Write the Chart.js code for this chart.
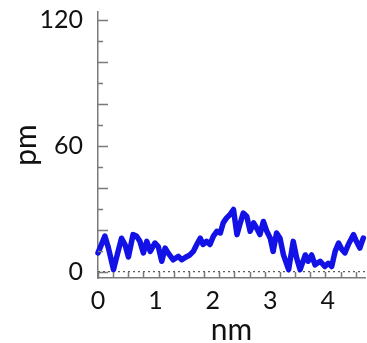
<!DOCTYPE html>
<html>
<head>
<meta charset="utf-8">
<script src="https://cdn.jsdelivr.net/npm/chart.js@4"></script>
<style>
  html, body { margin: 0; padding: 0; background: #fff; }
  #perfil { display: block; }
</style>
</head>
<body>
<canvas id="perfil" width="367" height="343"></canvas>
<script>
// perfil de altura: posicao (nm) e altura (pm)
var posicao_nm = [0.00, 0.12, 0.18, 0.27, 0.35, 0.41, 0.47, 0.53, 0.61, 0.67, 0.73, 0.79, 0.85, 0.91,
  0.99, 1.05, 1.11, 1.17, 1.22, 1.31, 1.40, 1.46, 1.55, 1.60, 1.66, 1.72, 1.78, 1.83, 1.89, 1.95,
  2.01, 2.07, 2.13, 2.18, 2.24, 2.30, 2.36, 2.42, 2.47, 2.53, 2.59, 2.65, 2.71, 2.76, 2.82, 2.88,
  2.94, 3.00, 3.05, 3.11, 3.17, 3.23, 3.32, 3.40, 3.46, 3.52, 3.61, 3.66, 3.72, 3.78, 3.87, 3.95,
  4.01, 4.07, 4.13, 4.19, 4.25, 4.30, 4.36, 4.45, 4.50, 4.56, 4.62];
var altura_pm = [9, 17, 11.5, 1, 9.7, 16, 13, 7, 17.7, 17, 14.5, 9, 14.5, 9.7,
  13.7, 12, 5, 11.3, 9, 5.7, 7.3, 5.7, 7.3, 8, 9.7, 13, 16, 13, 14.5, 13,
  17, 19.3, 18.5, 23.3, 25.7, 27.3, 29.7, 17.7, 22.5, 28, 26.5, 19.3, 23.3, 21, 17.7, 24,
  19.3, 16, 9.7, 18.5, 16, 8, 1, 14.5, 6.5, 1, 8, 5, 8, 3.3, 5, 2.5,
  4, 2.5, 9.7, 13.7, 10.5, 9, 13, 17.7, 14.5, 11.3, 16];

var rotulos_x = [0, 1, 2, 3, 4];
var rotulos_y = [0, 60, 120];
var passo_x = 0.264;   // tracinhos do eixo x
var passo_y = 10;      // tracinhos do eixo y
var x_max = 4.65;
var y_min = -3, y_max = 124;

var pontos = posicao_nm.map(function (p, i) { return { x: p, y: altura_pm[i] }; });
var linha_zero = [{ x: 0, y: 0 }, { x: x_max, y: 0 }];

// tracinhos para dentro, como no grafico original
var tracinhos = {
  id: "tracinhos",
  afterDraw: function (chart) {
    var ctx = chart.ctx, sx = chart.scales.x, sy = chart.scales.y;
    var area = chart.chartArea;
    ctx.save();
    ctx.strokeStyle = "#7a7a7a";
    ctx.lineWidth = 1.5;
    ctx.beginPath();
    for (var v = 0; v <= y_max; v += passo_y) {
      var py = Math.round(sy.getPixelForValue(v)) + 0.5;
      var len = (v % 20 === 0) ? 10 : 5;
      ctx.moveTo(area.left, py);
      ctx.lineTo(area.left + len, py);
    }
    for (var k = 0; k * passo_x <= x_max; k++) {
      var px = Math.round(sx.getPixelForValue(k * passo_x)) + 0.5;
      ctx.moveTo(px, area.bottom);
      ctx.lineTo(px, area.bottom - 6);
    }
    ctx.stroke();
    ctx.restore();
  }
};

var ctx = document.getElementById("perfil");

var myChart = new Chart(ctx, {
  type: "line",
  data: {
    datasets: [
      {
        label: "perfil",
        data: pontos,
        borderColor: "#1212e6",
        borderWidth: 5.5,
        borderJoinStyle: "round",
        borderCapStyle: "round",
        pointRadius: 0,
        tension: 0,
        clip: false,
        order: 1
      },
      {
        label: "zero",
        data: linha_zero,
        borderColor: "#333",
        borderWidth: 1,
        borderDash: [2, 3],
        pointRadius: 0,
        order: 2
      }
    ]
  },
  options: {
    responsive: false,
    animation: false,
    layout: { padding: { top: 12, right: 2, left: 0, bottom: 0 } },
    plugins: { legend: { display: false }, tooltip: { enabled: false } },
    scales: {
      x: {
        type: "linear",
        min: 0,
        max: x_max,
        grid: { display: false, drawTicks: false },
        border: { display: true, color: "#7a7a7a", width: 1.5 },
        afterBuildTicks: function (s) { s.ticks = rotulos_x.map(function (v) { return { value: v }; }); },
        ticks: {
          padding: 8,
          color: "#111",
          maxRotation: 0,
          autoSkip: false,
          font: { family: "Lato", size: 25 }
        },
        title: {
          display: true,
          text: "nm",
          color: "#111",
          font: { family: "Lato", size: 30, lineHeight: 0.8 },
          padding: { top: 0, bottom: 1 }
        },
        afterFit: function (s) { s.height = 65; s.paddingLeft = 0; s.paddingRight = 0; }
      },
      y: {
        type: "linear",
        min: y_min,
        max: y_max,
        grid: { display: false, drawTicks: false },
        border: { display: true, color: "#7a7a7a", width: 1.5 },
        afterBuildTicks: function (s) { s.ticks = rotulos_y.map(function (v) { return { value: v }; }); },
        ticks: {
          padding: 15,
          color: "#111",
          autoSkip: false,
          font: { family: "Lato", size: 25 }
        },
        title: {
          display: true,
          text: "pm",
          color: "#111",
          font: { family: "Lato", size: 30, lineHeight: 0.8 },
          padding: { top: 14, bottom: 0 }
        },
        afterFit: function (s) { s.width = 98; s.paddingTop = 0; s.paddingBottom = 0; }
      }
    }
  },
  plugins: [tracinhos]
});
</script>
</body>
</html>
